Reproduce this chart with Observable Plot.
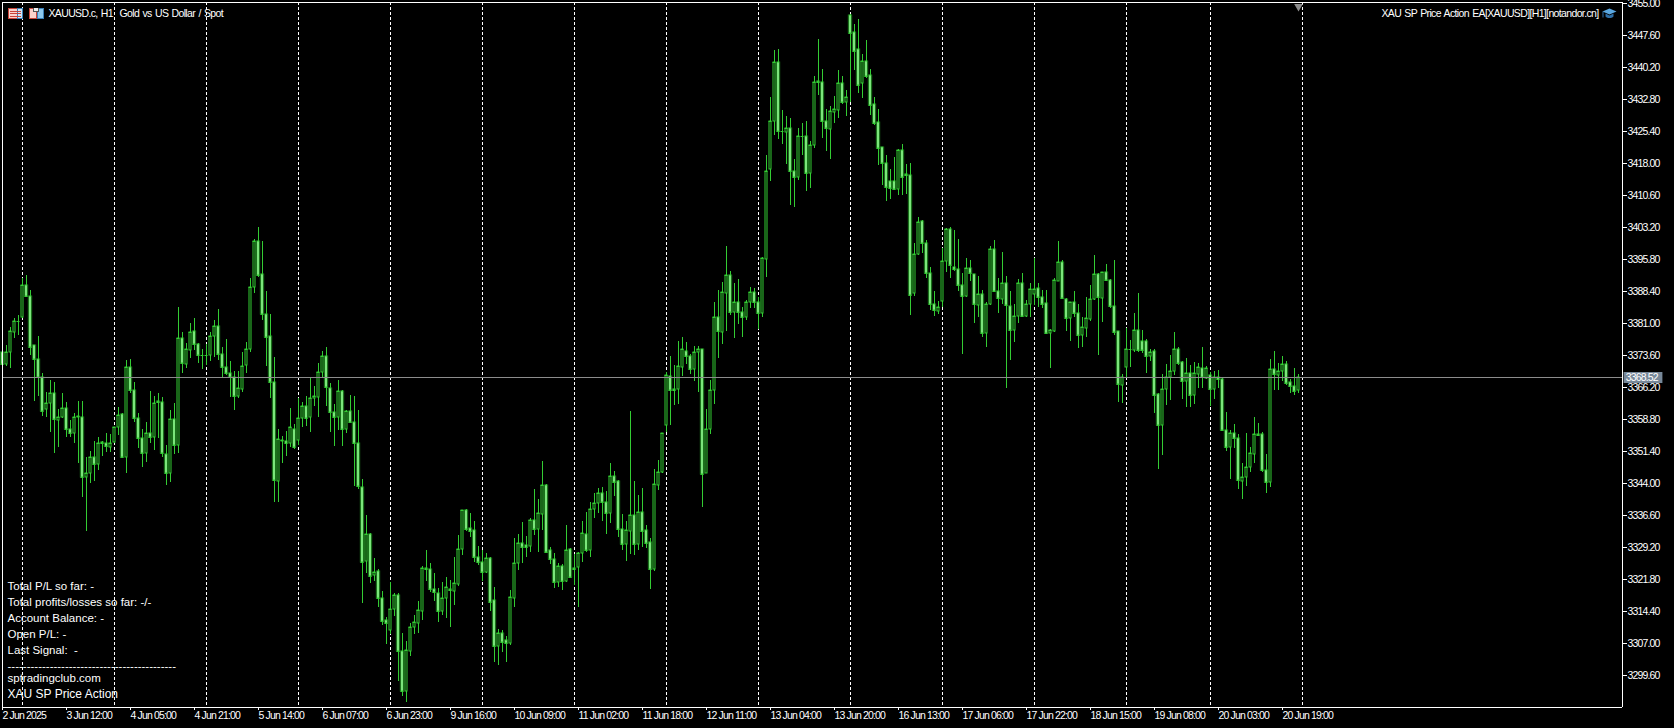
<!DOCTYPE html>
<html>
<head>
<meta charset="utf-8">
<script src="https://cdn.jsdelivr.net/npm/d3@7"></script>
<script src="https://cdn.jsdelivr.net/npm/@observablehq/plot@0.6"></script>
<style>
html,body{margin:0;padding:0;background:#000;overflow:hidden}
svg{display:block}
g[aria-label="y-axis tick label"],g[aria-label="x-axis tick label"],[aria-label="price-label"]{letter-spacing:-0.85px}
[aria-label="chart-title"],[aria-label="robot-title"]{letter-spacing:-0.64px;word-spacing:1px}
</style>
</head>
<body>
<div id="chart"></div>
<script>
const highs = [3374.8,3375.9,3380.0,3382.2,3382.9,3391.5,3392.1,3388.6,3375.9,3378.0,
3369.5,3365.1,3367.8,3367.4,3361.0,3364.7,3362.7,3358.6,3360.3,3363.0,
3363.0,3349.9,3351.4,3353.6,3354.6,3353.8,3355.6,3355.3,3357.0,3361.5,
3360.3,3372.4,3372.6,3367.3,3360.1,3356.4,3358.2,3365.3,3364.1,3364.9,
3363.8,3352.8,3360.9,3362.6,3384.6,3379.0,3376.3,3380.9,3382.1,3376.3,
3374.9,3376.1,3379.0,3381.7,3384.2,3375.5,3377.2,3372.3,3369.8,3369.8,
3374.4,3376.7,3391.3,3400.4,3403.2,3400.0,3388.4,3383.1,3373.1,3356.5,
3354.9,3356.0,3361.3,3357.6,3363.6,3362.7,3364.1,3368.4,3366.4,3371.8,
3374.5,3375.4,3367.2,3362.3,3367.8,3365.5,3360.9,3364.4,3364.1,3360.9,
3344.9,3336.6,3332.4,3326.6,3324.1,3319.0,3312.9,3321.0,3318.6,3318.5,
3309.4,3307.5,3311.7,3313.5,3316.6,3324.8,3328.5,3325.4,3323.3,3319.8,
3321.2,3322.3,3321.6,3327.0,3332.0,3337.8,3338.1,3337.0,3335.3,3329.4,
3328.5,3327.7,3327.0,3319.9,3310.2,3310.0,3308.6,3319.3,3331.2,3332.2,
3335.0,3331.7,3335.8,3342.6,3340.3,3349.1,3343.8,3329.1,3327.7,3325.4,
3325.2,3334.4,3328.9,3327.6,3328.1,3335.3,3337.4,3339.5,3341.6,3342.8,
3343.0,3342.2,3348.6,3346.8,3344.7,3336.8,3335.2,3360.6,3344.5,3341.2,
3342.8,3334.3,3331.2,3347.2,3349.3,3355.5,3369.6,3373.4,3371.3,3376.8,
3377.7,3376.6,3373.8,3375.7,3375.7,3375.1,3361.1,3367.8,3385.8,3388.6,
3390.4,3398.8,3393.0,3390.2,3391.1,3384.8,3386.3,3389.3,3389.0,3387.1,
3396.3,3419.9,3433.2,3444.1,3444.3,3430.3,3428.9,3428.3,3418.9,3426.0,
3427.2,3427.7,3423.1,3438.1,3446.6,3439.7,3430.5,3431.2,3433.4,3439.5,
3438.1,3434.9,3452.4,3450.1,3451.3,3443.2,3446.4,3439.7,3433.2,3430.5,
3421.6,3419.9,3416.5,3419.3,3421.2,3422.5,3417.8,3417.9,3399.4,3405.4,
3404.8,3400.2,3393.9,3388.4,3386.1,3398.3,3403.0,3403.1,3402.5,3400.4,
3392.5,3396.0,3395.6,3392.3,3391.9,3388.6,3385.9,3398.8,3400.2,3391.3,
3397.5,3391.9,3388.4,3385.3,3391.1,3392.5,3386.3,3390.2,3396.0,3390.2,
3388.6,3388.6,3379.5,3391.3,3400.0,3395.6,3386.7,3385.9,3388.4,3385.5,
3382.3,3386.9,3389.8,3396.7,3392.5,3392.9,3394.6,3391.1,3395.6,3379.2,
3369.2,3379.8,3377.1,3383.2,3387.9,3379.4,3377.2,3375.0,3375.0,3364.7,
3369.2,3371.5,3373.6,3378.9,3375.5,3372.3,3372.8,3371.4,3371.9,3371.7,
3375.4,3371.1,3369.7,3370.0,3370.1,3368.2,3360.5,3356.3,3357.6,3355.3,
3348.6,3355.5,3352.4,3359.2,3357.8,3355.9,3350.7,3372.6,3374.6,3371.7,
3373.4,3372.1,3368.0,3370.5,3369.2];

const lows = [3371.3,3371.1,3370.7,3377.6,3378.2,3382.1,3387.2,3373.6,3363.0,3364.1,
3359.5,3359.3,3355.9,3351.0,3352.4,3359.0,3354.7,3354.6,3353.3,3348.7,
3340.8,3333.0,3343.9,3344.5,3347.0,3350.2,3351.2,3351.2,3353.3,3355.1,
3349.7,3346.4,3364.7,3358.2,3352.0,3347.8,3348.9,3353.2,3351.6,3354.3,
3350.1,3343.5,3344.3,3350.7,3351.0,3369.5,3370.5,3372.8,3374.8,3371.8,
3370.3,3371.3,3372.3,3373.2,3372.4,3368.2,3369.0,3364.0,3360.9,3363.7,
3365.1,3369.4,3374.4,3388.0,3391.7,3381.7,3371.1,3363.7,3339.5,3339.7,
3348.7,3350.3,3352.4,3351.8,3352.9,3357.0,3357.2,3355.9,3361.8,3359.3,
3368.2,3361.8,3355.9,3352.6,3356.3,3352.6,3355.6,3357.8,3343.4,3342.5,
3316.3,3323.3,3320.8,3321.4,3315.4,3311.2,3306.8,3309.1,3313.3,3298.1,
3294.8,3293.4,3304.0,3309.1,3309.4,3312.3,3321.4,3318.9,3316.8,3311.8,
3313.5,3312.7,3310.6,3315.8,3320.2,3327.4,3332.8,3331.6,3325.8,3325.0,
3321.4,3323.3,3314.5,3302.7,3301.8,3305.0,3302.7,3306.5,3315.4,3323.9,
3325.4,3326.8,3328.1,3332.0,3328.1,3333.1,3327.7,3325.3,3319.8,3320.0,
3319.3,3321.2,3322.0,3320.3,3315.4,3325.8,3328.1,3327.0,3335.8,3337.1,
3335.3,3332.2,3334.8,3341.1,3331.4,3328.4,3326.0,3327.6,3327.4,3328.5,
3329.3,3328.9,3319.4,3323.7,3342.4,3346.2,3355.9,3357.4,3362.0,3362.3,
3368.7,3371.5,3369.2,3367.7,3365.1,3338.5,3346.2,3355.3,3362.3,3372.9,
3376.1,3379.2,3382.9,3377.6,3380.8,3377.8,3381.7,3384.4,3384.4,3379.6,
3382.5,3391.7,3413.9,3424.5,3423.6,3422.4,3417.8,3408.4,3407.9,3414.1,
3419.9,3411.6,3412.2,3421.5,3433.7,3423.8,3420.8,3418.9,3427.3,3428.4,
3431.6,3428.9,3432.2,3439.4,3434.3,3433.1,3437.7,3429.1,3426.9,3417.5,
3413.0,3409.3,3409.7,3411.8,3410.7,3410.7,3410.8,3382.9,3387.2,3396.7,
3397.3,3391.3,3383.9,3382.7,3383.1,3384.8,3392.9,3391.5,3393.1,3388.5,
3373.8,3387.1,3390.6,3381.1,3382.5,3377.7,3375.5,3385.2,3388.2,3383.4,
3385.5,3366.0,3372.4,3376.5,3381.1,3382.3,3382.3,3382.5,3385.2,3384.8,
3384.4,3378.6,3370.5,3379.0,3390.6,3386.5,3379.2,3376.9,3382.5,3375.3,
3375.5,3377.7,3381.5,3386.3,3373.6,3381.3,3390.7,3384.4,3378.2,3362.8,
3362.4,3368.6,3370.8,3374.4,3374.4,3374.0,3369.5,3372.1,3360.3,3347.3,
3350.5,3362.0,3363.2,3369.0,3371.3,3363.4,3361.5,3361.5,3362.2,3365.9,
3365.9,3368.0,3361.8,3363.4,3365.9,3356.0,3351.5,3344.9,3352.0,3342.5,
3340.2,3343.2,3346.6,3348.6,3354.9,3346.6,3341.8,3343.0,3365.5,3365.5,
3367.7,3366.7,3364.9,3364.4,3364.7];

const opens = [3374.4,3371.5,3374.4,3379.0,3381.4,3382.5,3389.9,3387.3,3375.8,3372.6,
3368.6,3361.0,3362.6,3364.9,3358.6,3359.3,3361.3,3356.6,3355.5,3359.3,
3359.3,3345.5,3346.4,3350.1,3348.3,3353.4,3353.3,3352.4,3353.5,3357.0,
3359.9,3350.1,3370.8,3365.4,3359.0,3354.5,3350.9,3355.5,3354.6,3362.9,
3362.8,3350.6,3346.4,3358.7,3352.9,3377.5,3371.5,3374.8,3379.2,3376.1,
3373.7,3373.7,3373.5,3378.1,3380.2,3373.8,3370.8,3369.5,3368.4,3364.2,
3365.8,3371.3,3375.1,3389.4,3400.0,3392.3,3383.0,3378.1,3367.4,3344.5,
3353.7,3353.8,3353.3,3356.4,3353.9,3359.0,3361.7,3359.3,3363.6,3364.0,
3369.6,3373.4,3365.9,3360.5,3359.3,3365.2,3356.6,3360.6,3358.2,3353.2,
3343.0,3326.0,3332.1,3322.7,3323.7,3317.3,3312.3,3309.9,3314.8,3318.1,
3305.2,3295.8,3305.2,3310.6,3311.7,3314.5,3324.3,3324.1,3319.6,3318.5,
3314.5,3317.3,3319.6,3319.1,3320.6,3328.7,3337.7,3333.5,3333.1,3327.0,
3325.7,3323.5,3326.7,3316.9,3306.2,3309.2,3307.7,3307.1,3317.5,3325.4,
3330.1,3329.7,3329.5,3335.4,3333.4,3336.8,3343.6,3328.5,3326.5,3321.2,
3324.8,3321.4,3328.7,3324.4,3324.5,3327.7,3332.1,3328.4,3338.1,3339.3,
3341.8,3339.5,3337.1,3345.6,3344.5,3333.4,3329.8,3333.0,3336.5,3329.8,
3337.4,3333.1,3330.3,3324.2,3343.5,3346.5,3357.3,3368.8,3365.7,3365.7,
3370.8,3374.6,3373.3,3370.3,3374.3,3374.9,3346.2,3356.6,3365.4,3382.5,
3379.0,3388.0,3392.1,3383.6,3385.8,3383.6,3382.5,3385.8,3388.1,3385.8,
3383.4,3395.7,3416.7,3427.6,3441.3,3425.5,3425.2,3426.0,3416.2,3414.8,
3424.3,3424.2,3415.8,3422.2,3436.9,3436.8,3427.8,3425.9,3429.9,3430.3,
3436.4,3432.2,3452.2,3448.2,3444.3,3436.4,3441.6,3438.3,3431.6,3427.4,
3421.6,3418.1,3413.8,3413.8,3411.9,3420.9,3415.4,3415.3,3388.0,3396.9,
3404.6,3399.4,3392.5,3385.3,3383.8,3386.1,3395.3,3402.7,3394.0,3393.6,
3389.9,3387.3,3393.8,3392.3,3385.2,3387.6,3378.8,3385.4,3398.0,3388.5,
3386.6,3390.3,3385.0,3379.3,3382.7,3390.2,3382.7,3385.4,3387.8,3389.0,
3387.1,3385.7,3378.8,3379.2,3390.8,3395.0,3386.5,3382.2,3385.8,3383.4,
3378.2,3379.9,3381.9,3386.5,3392.3,3386.7,3392.7,3390.9,3385.0,3379.1,
3366.6,3370.9,3375.0,3374.8,3379.3,3376.8,3376.8,3373.4,3374.5,3364.6,
3357.3,3365.8,3368.6,3370.0,3374.9,3371.9,3367.7,3369.4,3364.4,3369.2,
3370.7,3368.2,3369.0,3365.7,3368.6,3368.0,3356.3,3352.3,3355.5,3354.3,
3344.5,3345.3,3347.6,3350.7,3355.3,3355.3,3346.9,3344.3,3370.3,3369.0,
3369.8,3371.5,3367.3,3366.5,3365.4];

const closes = [3371.5,3374.4,3379.2,3381.5,3381.5,3389.9,3387.3,3375.5,3372.6,3368.6,
3360.7,3362.6,3364.9,3358.7,3359.3,3361.3,3356.6,3355.5,3359.2,3359.4,
3345.3,3346.4,3350.1,3348.3,3353.2,3353.2,3352.6,3353.3,3357.0,3359.7,
3350.1,3370.8,3365.4,3359.0,3354.5,3350.9,3355.5,3354.6,3362.6,3362.7,
3350.9,3346.4,3358.7,3352.8,3377.5,3371.7,3374.9,3379.0,3376.1,3373.5,
3373.5,3373.5,3378.1,3380.2,3373.8,3370.8,3369.5,3368.4,3364.2,3365.9,
3371.1,3375.1,3389.4,3400.0,3392.1,3383.0,3377.8,3367.4,3344.7,3354.1,
3353.9,3353.3,3357.0,3352.3,3359.0,3361.7,3359.1,3363.6,3364.1,3369.6,
3373.4,3366.1,3360.5,3359.3,3365.2,3356.6,3360.6,3358.2,3353.2,3343.2,
3325.8,3332.1,3322.6,3323.5,3317.3,3312.2,3311.6,3314.8,3318.1,3305.2,
3295.8,3305.4,3310.6,3311.8,3314.6,3324.3,3324.1,3319.6,3318.7,3314.5,
3317.3,3319.9,3319.2,3320.8,3328.7,3337.7,3333.4,3332.9,3327.0,3325.7,
3323.5,3326.7,3316.4,3306.2,3309.2,3307.3,3307.1,3317.6,3325.4,3330.1,
3329.3,3329.3,3335.4,3333.4,3337.0,3343.5,3328.1,3326.5,3321.2,3324.8,
3321.4,3328.5,3322.3,3324.2,3327.7,3332.4,3328.5,3338.1,3339.3,3341.8,
3339.5,3337.1,3345.6,3344.3,3333.4,3329.8,3333.1,3336.5,3329.8,3337.4,
3333.0,3330.1,3324.2,3343.7,3346.6,3355.5,3368.9,3365.4,3365.6,3371.0,
3374.9,3373.3,3370.4,3374.4,3374.9,3346.0,3356.6,3365.4,3382.5,3379.2,
3388.1,3392.1,3383.6,3385.8,3383.6,3382.5,3385.8,3388.1,3385.8,3383.4,
3396.0,3416.1,3427.7,3441.3,3425.5,3425.3,3426.0,3416.2,3414.8,3424.2,
3424.2,3415.8,3422.2,3436.7,3436.7,3427.8,3426.1,3430.0,3430.4,3436.4,
3432.2,3433.3,3448.1,3444.0,3436.1,3441.6,3438.1,3431.4,3427.2,3421.5,
3418.1,3412.5,3412.2,3411.9,3420.9,3414.8,3415.2,3387.4,3396.9,3404.3,
3399.4,3392.6,3385.3,3383.9,3384.8,3395.4,3402.7,3394.3,3393.6,3389.9,
3387.3,3393.8,3392.5,3385.5,3387.6,3378.8,3385.5,3398.0,3388.5,3386.7,
3390.3,3385.1,3379.3,3382.7,3390.2,3382.7,3385.5,3388.8,3388.8,3387.1,
3385.5,3378.8,3379.4,3390.9,3395.0,3386.7,3382.2,3385.8,3383.4,3378.2,
3380.0,3382.1,3386.5,3392.3,3386.9,3392.7,3390.9,3385.0,3379.0,3366.8,
3368.4,3375.1,3374.9,3379.3,3374.8,3374.8,3373.4,3374.4,3364.4,3357.3,
3365.8,3368.6,3370.0,3374.9,3371.8,3367.7,3369.4,3364.4,3369.4,3370.9,
3368.4,3370.5,3365.7,3368.6,3368.0,3356.3,3352.3,3355.5,3354.3,3344.7,
3345.3,3347.6,3350.9,3355.3,3355.1,3346.9,3344.3,3370.3,3369.1,3369.8,
3371.5,3367.2,3366.5,3365.3,3368.52];

const priceTicks = [3455.00,3447.60,3440.20,3432.80,3425.40,3418.00,3410.60,3403.20,3395.80,3388.40,3381.00,3373.60,3366.20,3358.80,3351.40,3344.00,3336.60,3329.20,3321.80,3314.40,3307.00,3299.60];
const timeLabels = ["2 Jun 2025","3 Jun 12:00","4 Jun 05:00","4 Jun 21:00","5 Jun 14:00","6 Jun 07:00","6 Jun 23:00","9 Jun 16:00","10 Jun 09:00","11 Jun 02:00","11 Jun 18:00","12 Jun 11:00","13 Jun 04:00","13 Jun 20:00","16 Jun 13:00","17 Jun 06:00","17 Jun 22:00","18 Jun 15:00","19 Jun 08:00","20 Jun 03:00","20 Jun 19:00"];
const timeLabelBars = timeLabels.map((_, i) => i * 16);
const dayBreakBars = [5,28,51,74,97,120,143,166,189,212,235,258,281,302,325];
const currentPrice = 3368.52;
const lastBar = 324;
const xDomain = [0, 405];
const yDomain = [3292.2, 3455.23];

const chartTitle = "XAUUSD.c, H1  Gold vs US Dollar / Spot";
const robotTitle = "XAU SP Price Action EA[XAUUSD][H1][notandor.cn]";
const statusLines = [
  ["Total P/L so far: -", 584],
  ["Total profits/losses so far: -/-", 600],
  ["Account Balance: -", 616],
  ["Open P/L: -", 632],
  ["Last Signal:  -", 648],
  ["--------------------------------------------", 664],
  ["sptradingclub.com", 676]
];
const robotName = "XAU SP Price Action";

const GREEN = "#33cc33";
const FONT = "'Liberation Sans',sans-serif";

const candles = highs.map((high, i) => ({i, high, low: lows[i], open: opens[i], close: closes[i], up: closes[i] >= opens[i]}));
const falling = candles.filter(d => !d.up);

const svgIcon = s => "data:image/svg+xml," + encodeURIComponent(s);
const tableIcon = svgIcon(`<svg xmlns="http://www.w3.org/2000/svg" width="16" height="12" shape-rendering="crispEdges"><rect x="0.5" y="0.5" width="9" height="10" fill="#fbd3cc" stroke="#c8453a"/><rect x="9.5" y="0.5" width="5" height="10" fill="#cfe6f7" stroke="#3a7fb8"/><path d="M2 3.5h11M2 6h11M2 8.5h11" stroke="#c8453a"/></svg>`);
const diskIcon = svgIcon(`<svg xmlns="http://www.w3.org/2000/svg" width="16" height="12" shape-rendering="crispEdges"><rect x="0.5" y="0.5" width="7" height="10" fill="#fbd3cc" stroke="#c8453a"/><rect x="8.5" y="0.5" width="6" height="10" fill="#8cc8ee" stroke="#3a7fb8"/><rect x="5" y="0" width="5" height="4" fill="#eee" stroke="#555"/></svg>`);
const capIcon = svgIcon(`<svg xmlns="http://www.w3.org/2000/svg" width="16" height="12"><path d="M1 4L8 1l7 3-7 3z" fill="#5aa7e0"/><path d="M4 6v3c2 2 6 2 8 0V6L8 8z" fill="#2e6fa8"/><path d="M1.5 4v6" stroke="#2e6fa8"/></svg>`);

const statusText = statusLines.map(([t, top]) =>
  Plot.text([t], {text: d => d, frameAnchor: "top-left", dx: 5, dy: top, lineAnchor: "middle", fill: "#fff", fontSize: 11.5}));

const chart = Plot.plot({
  width: 1674, height: 728,
  marginLeft: 2, marginRight: 52, marginTop: 2, marginBottom: 21,
  style: {background: "#000", color: "#fff", fontFamily: FONT, fontSize: "10.5px"},
  x: {domain: xDomain, axis: null},
  y: {domain: yDomain, axis: null, round: true},
  marks: [
    Plot.ruleX(dayBreakBars, {stroke: "#fff", strokeDasharray: "3,2"}),
    Plot.ruleX(candles, {x: "i", y1: "high", y2: "low", stroke: GREEN}),
    Plot.rect(falling, {x1: d => d.i - 0.5, x2: d => d.i + 0.5, y1: "open", y2: "close", stroke: "#2fbf2f", strokeOpacity: 0.22, strokeWidth: 1, fill: "none"}),
    Plot.rect(candles, {x1: d => d.i - 0.25, x2: d => d.i + 0.25, y1: "open", y2: "close", stroke: GREEN, fill: d => d.up ? "#000" : "#c4ffc4"}),
    Plot.ruleY(candles, {y: "close", x1: d => d.i - 0.375, x2: d => d.i + 0.375, stroke: GREEN}),
    Plot.ruleY([currentPrice], {stroke: "#8c8c8c", x1: xDomain[0], x2: xDomain[1]}),
    Plot.ruleY([currentPrice], {x1: 405.4, x2: 415.1, stroke: "#778899", strokeWidth: 11}),
    Plot.text([currentPrice], {x: 405.8, y: currentPrice, text: d => d.toFixed(2), textAnchor: "start", fill: "#fff", ariaLabel: () => "price-label"}),
    Plot.dot([lastBar], {x: d => d, y: () => 3454.2, symbol: "triangle", rotate: 180, r: 3.2, fill: "#8c8c8c"}),
    Plot.ruleX([xDomain[0], xDomain[1]], {stroke: "#fff"}),
    Plot.ruleY([yDomain[0], yDomain[1]], {stroke: "#fff"}),
    Plot.axisY({anchor: "right", ticks: priceTicks, tickFormat: d => d.toFixed(2), tickSize: 4, tickPadding: 1, stroke: "#fff", fill: "#fff", label: null}),
    Plot.axisX({anchor: "bottom", ticks: timeLabelBars, tickFormat: i => timeLabels[i / 16], tickSize: 3, tickPadding: 1, textAnchor: "start", stroke: "#fff", fill: "#fff", label: null}),
    Plot.text([chartTitle], {text: d => d, frameAnchor: "top-left", dx: 46, dy: 11, lineAnchor: "middle", fill: "#fff", ariaLabel: () => "chart-title"}),
    Plot.text([robotTitle], {text: d => d, frameAnchor: "top-right", dx: -24, dy: 11, lineAnchor: "middle", textAnchor: "end", fill: "#fff", ariaLabel: () => "robot-title"}),
    ...statusText,
    Plot.text([robotName], {text: d => d, frameAnchor: "top-left", dx: 5, dy: 692, lineAnchor: "middle", fill: "#fff", fontSize: 12}),
    Plot.image([0], {src: tableIcon, frameAnchor: "top-left", dx: 13, dy: 11, width: 16, height: 12}),
    Plot.image([0], {src: diskIcon, frameAnchor: "top-left", dx: 34, dy: 11, width: 16, height: 12}),
    Plot.image([0], {src: capIcon, frameAnchor: "top-right", dx: -13, dy: 11, width: 16, height: 12})
  ]
});
document.getElementById("chart").appendChild(chart);
</script>
</body>
</html>
